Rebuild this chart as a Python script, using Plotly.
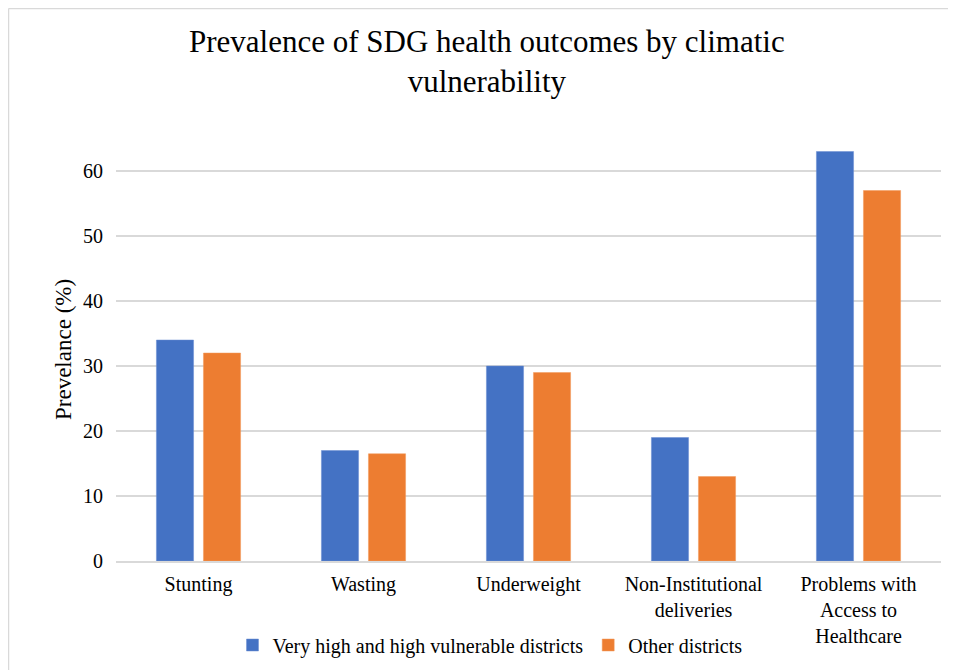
import plotly.graph_objects as go

categories = ["Stunting", "Wasting", "Underweight", "Non-Institutional<br>deliveries",
              "Problems with<br>Access to<br>Healthcare"]
high_vuln = [34, 17, 30, 19, 63]
other = [32, 16.5, 29, 13, 57]
series_names = ["Very high and high vulnerable districts", "Other districts"]
y_ticks = [0, 10, 20, 30, 40, 50, 60]

FONT = "Liberation Serif, Times New Roman, serif"

fig = go.Figure()
fig.add_trace(go.Bar(x=categories, y=high_vuln, name=series_names[0],
                     marker=dict(color="#4472C4", line=dict(color="#6a8fd3", width=0.5))))
fig.add_trace(go.Bar(x=categories, y=other, name=series_names[1],
                     marker=dict(color="#ED7D31", line=dict(color="#f29a5c", width=0.5))))

# figure is placed at (8, 8) in the page by the default body margin
W, H = 948, 662
L, R, T, B = 108, 15, 98, 109
pw, ph = W - L - R, H - T - B

def px_x(x):
    return (x - L) / pw

def px_y(y):
    return (H - B - y) / ph

fig.update_layout(
    width=W, height=H,
    margin=dict(l=L, r=R, t=T, b=B, autoexpand=False),
    paper_bgcolor="white", plot_bgcolor="white",
    font=dict(family=FONT, size=20, color="#000000"),
    barmode="group", bargap=0.43, bargroupgap=0.21,
    showlegend=True,
    legend=dict(orientation="h", x=px_x(482), xanchor="center", y=px_y(637), yanchor="middle",
                font=dict(family=FONT, size=20), itemwidth=30, traceorder="normal"),
    xaxis=dict(showgrid=False, showline=True, linecolor="#d9d9d9", linewidth=1.5,
               ticks="", tickfont=dict(family=FONT, size=20), automargin=False,
               ticklabelstandoff=4),
    yaxis=dict(range=[0, 70], tickvals=y_ticks, showgrid=True, gridcolor="#d9d9d9",
               gridwidth=1.5, zeroline=False, ticks="", showline=False,
               tickfont=dict(family=FONT, size=20), automargin=False,
               ticklabelstandoff=12),
    annotations=[
        dict(text="Prevalence of SDG health outcomes by climatic<br>vulnerability",
             xref="paper", yref="paper", x=px_x(479), y=px_y(53.5),
             xanchor="center", yanchor="middle", showarrow=False,
             font=dict(family=FONT, size=31, color="#000000")),
        dict(text="Prevelance (%)", textangle=-90, xref="paper", yref="paper",
             x=px_x(55), y=px_y(342), xanchor="center", yanchor="middle",
             showarrow=False, font=dict(family=FONT, size=23, color="#000000")),
    ],
    shapes=[
        dict(type="line", xref="paper", yref="paper",
             x0=px_x(0.5), x1=px_x(W), y0=px_y(0.5), y1=px_y(0.5),
             line=dict(color="#d9d9d9", width=1.5)),
        dict(type="line", xref="paper", yref="paper",
             x0=px_x(0.5), x1=px_x(0.5), y0=px_y(0.5), y1=px_y(H),
             line=dict(color="#d9d9d9", width=1.5)),
    ],
)

fig.write_html("out.html")
